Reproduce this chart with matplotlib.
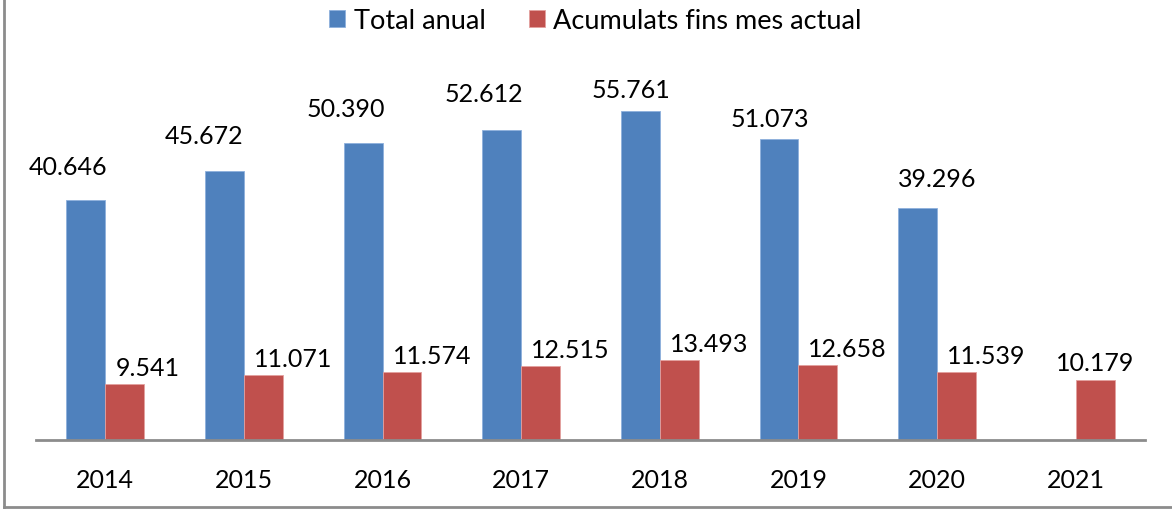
import matplotlib
matplotlib.use("Agg")
import matplotlib.pyplot as plt
from matplotlib.lines import Line2D
import numpy as np

years = ["2014", "2015", "2016", "2017", "2018", "2019", "2020", "2021"]
total_anual = [40646, 45672, 50390, 52612, 55761, 51073, 39296, None]
acumulats = [9541, 11071, 11574, 12515, 13493, 12658, 11539, 10179]
series_names = ["Total anual", "Acumulats fins mes actual"]

# label nudges in pixels for the blue labels, as placed in the original
blue_dx = [-18, -20, -17, -18, -9, -9, 20, 0]
blue_dy = [22, 24, 23, 25, 10, 9, 18, 0]

def fmt(v):
    return f"{v:,}".replace(",", ".")

plt.rcParams['font.family'] = ['Lato', 'DejaVu Sans']
fig = plt.figure(figsize=(11.72, 5.1), dpi=100)
W, H = 1172, 510
ax = fig.add_axes([36 / W, 69 / H, 1109 / W, 413 / H])

blue, red = '#4F81BD', '#C0504D'
x = np.arange(len(years))
bw = 0.28
px = 1109 / 8  # pixels per category

tot = [np.nan if v is None else v for v in total_anual]
b1 = ax.bar(x - bw / 2, tot, bw, color=blue, edgecolor='#8DB0DC', linewidth=0.6,
            label=series_names[0])
b2 = ax.bar(x + bw / 2, acumulats, bw, color=red, edgecolor='#E3A09E', linewidth=0.6,
            label=series_names[1])

ax.set_xlim(-0.5, 7.5)
ax.set_ylim(0, 70000)
ypx = 70000 / 413

for i, v in enumerate(total_anual):
    if v is None:
        continue
    ax.text(i - bw / 2 + blue_dx[i] / px, v + blue_dy[i] * ypx, fmt(v),
            ha='center', va='bottom', fontsize=18)
for i, v in enumerate(acumulats):
    if total_anual[i] is None:
        ax.text(i + bw / 2, v + 6 * ypx, fmt(v), ha='center', va='bottom', fontsize=18)
    else:
        ax.text(i + 10 / px, v + 5 * ypx, fmt(v), ha='left', va='bottom', fontsize=18)

ax.set_xticks(x)
ax.set_xticklabels(years, fontsize=18)
ax.tick_params(axis='x', length=0, pad=20)
ax.set_yticks([])
for s in ['left', 'right', 'top']:
    ax.spines[s].set_visible(False)
ax.spines['bottom'].set_color('#8C8C8C')
ax.spines['bottom'].set_linewidth(2)

fig.legend(handles=[b1, b2], loc='center', bbox_to_anchor=(0.508, 0.958), ncol=2,
           frameon=False, fontsize=19.5, handlelength=0.6, handleheight=0.6,
           handletextpad=0.3, columnspacing=1.6)

# outer frame (left and bottom edges visible)
fig.add_artist(Line2D([3.5 / W, 3.5 / W], [2 / H, 1], transform=fig.transFigure,
                      color='#8C8C8C', linewidth=2))
fig.add_artist(Line2D([3.5 / W, 1], [2 / H, 2 / H], transform=fig.transFigure,
                      color='#8C8C8C', linewidth=2))

fig.savefig('out.png', dpi=100)
